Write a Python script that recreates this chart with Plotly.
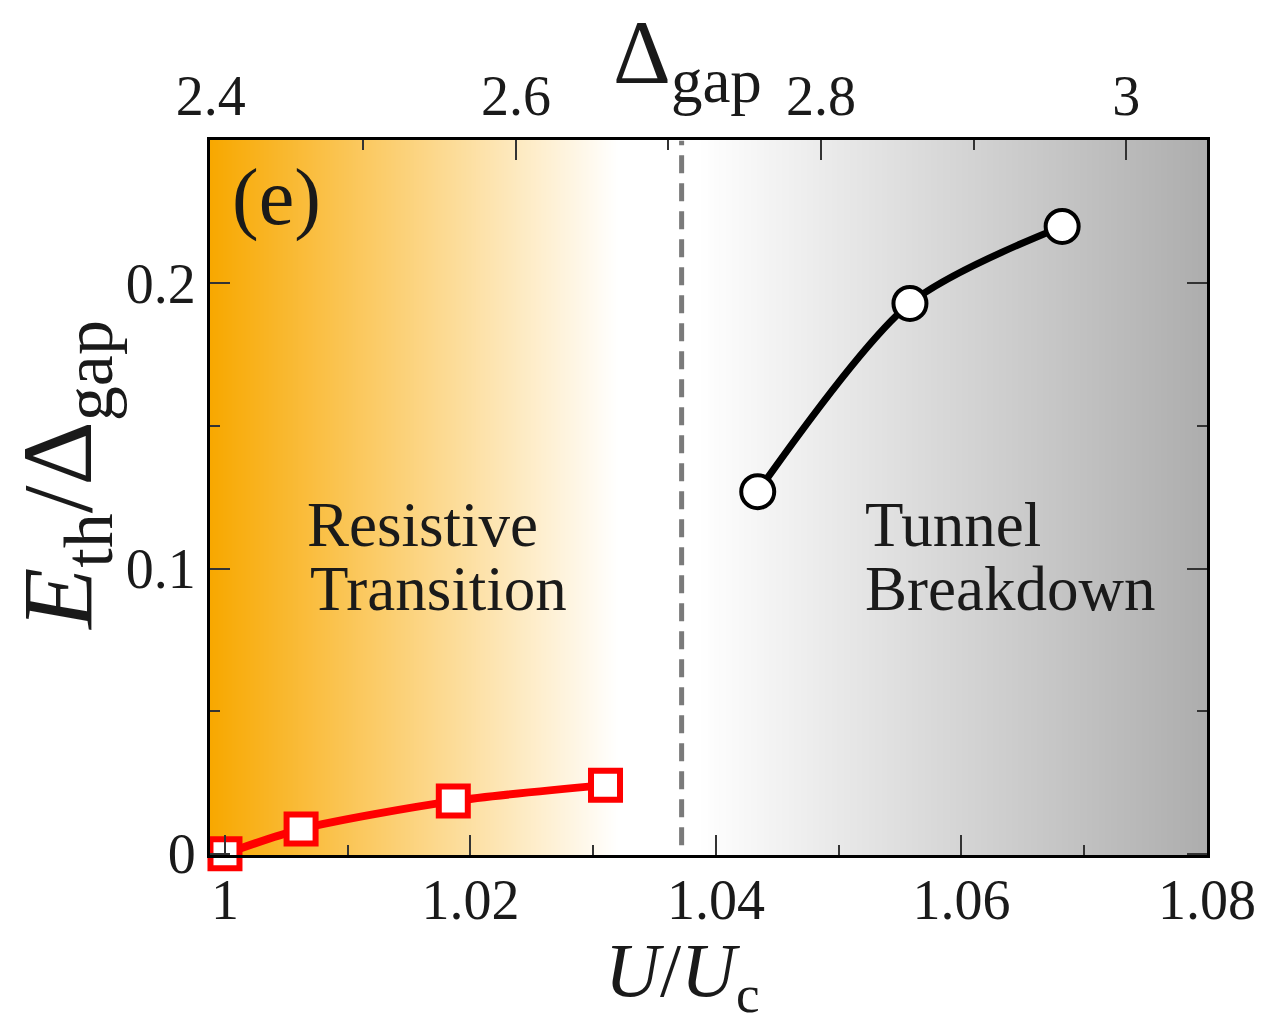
import numpy as np
import plotly.graph_objects as go

# Resistive-transition branch (red squares)
u_resistive = [1.0000, 1.0062, 1.0186, 1.0310]
e_resistive = [0.0000, 0.0087, 0.0185, 0.0241]

# Tunnel-breakdown branch (black circles)
u_tunnel = [1.0434, 1.0558, 1.0682]
e_tunnel = [0.127, 0.193, 0.220]

# Boundary between the two regimes
u_boundary = 1.0372

# Axis ranges
x_range = [0.99878, 1.0800]
y_range = [-0.0004, 0.2503]
gap_range = [2.3995, 3.0530]

x_ticks = [1.00, 1.02, 1.04, 1.06, 1.08]
x_ticktext = ["1", "1.02", "1.04", "1.06", "1.08"]
gap_ticks = [2.4, 2.6, 2.8, 3.0]
gap_ticktext = ["2.4", "2.6", "2.8", "3"]
y_ticks = [0.0, 0.1, 0.2]
y_ticktext = ["0", "0.1", "0.2"]

# Background gradient stops (in U/Uc) : orange -> white -> white -> grey
grad_pos = [x_range[0], 1.0320, 1.0385, x_range[1]]
grad_col = ["#F8A800", "#FFFFFF", "#FFFFFF", "#ADADAD"]

SERIF = "Liberation Serif, Times New Roman, serif"
INK = "#1a1a1a"

fig = go.Figure()

# gradient background as a heatmap whose z is simply the x coordinate
gx = np.linspace(x_range[0], x_range[1], 600)
span = x_range[1] - x_range[0]
cscale = [[(p - x_range[0]) / span, c] for p, c in zip(grad_pos, grad_col)]
fig.add_trace(go.Heatmap(
    x=gx, y=[y_range[0], y_range[1]], z=[gx, gx],
    colorscale=cscale, zmin=x_range[0], zmax=x_range[1],
    showscale=False, hoverinfo="skip", zsmooth="best",
))

fig.add_trace(go.Scatter(
    x=u_resistive, y=e_resistive, mode="lines+markers",
    line=dict(color="#FF0000", width=8, shape="spline", smoothing=0.8),
    marker=dict(symbol="square", size=29, color="white",
                line=dict(color="#FF0000", width=6)),
    showlegend=False, cliponaxis=False,
))

fig.add_trace(go.Scatter(
    x=u_tunnel, y=e_tunnel, mode="lines+markers",
    line=dict(color="black", width=7, shape="spline", smoothing=0.8),
    marker=dict(symbol="circle", size=33, color="white",
                line=dict(color="black", width=4)),
    showlegend=False, cliponaxis=False,
))

# invisible trace that carries the top (Δgap) axis
fig.add_trace(go.Scatter(
    x=gap_range, y=[None, None], xaxis="x2", mode="markers",
    showlegend=False, hoverinfo="skip",
))

fig.add_shape(
    type="line", xref="x", yref="y",
    x0=u_boundary, x1=u_boundary, y0=0.003, y1=0.250,
    line=dict(color="#7a7a7a", width=5, dash="18px,10px"),
)

tick_font = dict(family=SERIF, size=56, color=INK)
text_font = dict(family=SERIF, size=63, color=INK)

fig.update_layout(
    width=1268, height=1029,
    margin=dict(l=210, r=57, t=140, b=174),
    paper_bgcolor="white", plot_bgcolor="white",
    xaxis=dict(
        range=x_range, tickvals=x_ticks, ticktext=x_ticktext,
        ticks="inside", ticklen=20, tickwidth=2, tickcolor="#333",
        minor=dict(dtick=0.01, tick0=1.0, ticks="inside", ticklen=10,
                   tickwidth=2, tickcolor="#333"),
        showline=True, linecolor="black", linewidth=3, mirror=False,
        showgrid=False, zeroline=False, tickfont=tick_font,
        ticklabelstandoff=-6,
    ),
    xaxis2=dict(
        range=gap_range, overlaying="x", side="top", anchor="y",
        tickvals=gap_ticks, ticktext=gap_ticktext,
        ticks="inside", ticklen=20, tickwidth=2, tickcolor="#333",
        minor=dict(dtick=0.1, tick0=2.4, ticks="inside", ticklen=10,
                   tickwidth=2, tickcolor="#333"),
        showline=True, linecolor="black", linewidth=3,
        showgrid=False, zeroline=False, tickfont=tick_font,
    ),
    yaxis=dict(
        range=y_range, tickvals=y_ticks, ticktext=y_ticktext,
        ticks="inside", ticklen=20, tickwidth=2, tickcolor="#333",
        minor=dict(dtick=0.05, tick0=0, ticks="inside", ticklen=10,
                   tickwidth=2, tickcolor="#333"),
        showline=True, linecolor="black", linewidth=3, mirror="ticks",
        showgrid=False, zeroline=False, tickfont=tick_font,
    ),
    annotations=[
        # axis titles
        dict(text="<i>U</i>/<i>U</i><sub>c</sub>", xref="paper", yref="paper",
             x=0.474, y=-0.2394, xanchor="center", yanchor="bottom",
             showarrow=False, font=dict(family=SERIF, size=76, color=INK)),
        dict(text="Δ<sub>gap</sub>", xref="paper", yref="paper",
             x=0.479, y=1.195, xanchor="center", yanchor="top",
             showarrow=False, font=dict(family=SERIF, size=90, color=INK)),
        dict(text="<i>E</i><sub>th</sub>/Δ<sub>gap</sub>", xref="paper",
             yref="paper", x=-0.146, y=0.531, xanchor="center",
             yanchor="middle", textangle=-90, showarrow=False,
             font=dict(family=SERIF, size=100, color=INK)),
        # panel label and regime labels
        dict(text="(e)", xref="paper", yref="paper", x=0.02, y=0.985,
             xanchor="left", yanchor="top", showarrow=False,
             font=dict(family=SERIF, size=80, color=INK)),
        dict(text="Resistive", xref="paper", yref="paper",
             x=0.095, y=0.462, xanchor="left", yanchor="middle",
             showarrow=False, font=text_font),
        dict(text="Transition", xref="paper", yref="paper",
             x=0.098, y=0.372, xanchor="left", yanchor="middle",
             showarrow=False, font=text_font),
        dict(text="Tunnel", xref="paper", yref="paper",
             x=0.655, y=0.462, xanchor="left", yanchor="middle",
             showarrow=False, font=text_font),
        dict(text="Breakdown", xref="paper", yref="paper",
             x=0.655, y=0.372, xanchor="left", yanchor="middle",
             showarrow=False, font=text_font),
    ],
)

fig.write_html("out.html")
